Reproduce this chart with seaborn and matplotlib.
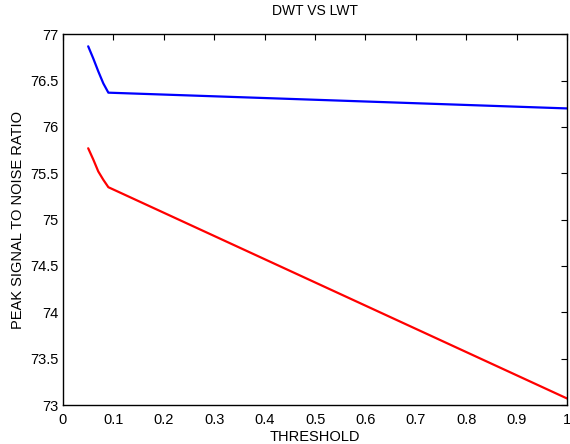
import numpy as np
import pandas as pd
import matplotlib
matplotlib.use("Agg")
import matplotlib.pyplot as plt
import seaborn as sns

# threshold values and PSNR for both transforms
threshold = [0.05, 0.06, 0.07, 0.08, 0.09, 1.0]
psnr_dwt = [76.87, 76.74, 76.60, 76.47, 76.37, 76.20]
psnr_lwt = [75.77, 75.65, 75.52, 75.43, 75.35, 73.07]

df = pd.DataFrame({
    "threshold": threshold * 2,
    "psnr": psnr_dwt + psnr_lwt,
    "method": ["DWT"] * len(threshold) + ["LWT"] * len(threshold),
})

sns.set_style("white")
plt.rcParams['font.family'] = ['Liberation Sans', 'DejaVu Sans']
plt.rcParams['text.color'] = 'black'
plt.rcParams['axes.labelcolor'] = 'black'

fig = plt.figure(figsize=(5.7, 4.44), dpi=100)
ax = fig.add_axes([0.1105, 0.0878, 0.8845, 0.835])

sns.lineplot(data=df, x="threshold", y="psnr", hue="method",
             palette={"DWT": "#0000ff", "LWT": "#ff0000"},
             linewidth=1.6, legend=False, ax=ax)

ax.set_xlim(0, 1)
ax.set_ylim(73, 77)
ax.set_xticks(np.arange(0, 1.01, 0.1))
ax.set_xticklabels(["0", "0.1", "0.2", "0.3", "0.4", "0.5", "0.6", "0.7", "0.8", "0.9", "1"])
ax.set_yticks(np.arange(73, 77.01, 0.5))
ax.set_yticklabels(["73", "73.5", "74", "74.5", "75", "75.5", "76", "76.5", "77"])
ax.tick_params(direction="in", length=4, width=0.8, top=True, right=True,
               labelsize=10.5, pad=3, colors="black")
ax.tick_params(axis="x", pad=6)
for s in ax.spines.values():
    s.set_color("black")
    s.set_linewidth(1.0)

ax.set_title("DWT VS LWT", fontsize=10, pad=14, color="black")
ax.set_xlabel("THRESHOLD", fontsize=10.5, labelpad=2, color="black")
ax.set_ylabel("PEAK SIGNAL TO NOISE RATIO", fontsize=10.5, labelpad=4, color="black")

fig.savefig("out.png", dpi=100)
